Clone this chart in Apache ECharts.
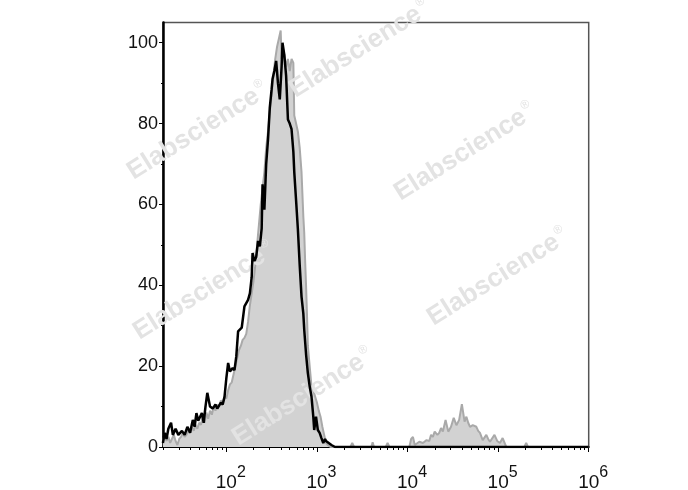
<!DOCTYPE html>
<html><head><meta charset="utf-8">
<script src="https://cdn.jsdelivr.net/npm/echarts@6/dist/echarts.min.js"></script>
<style>html,body{margin:0;padding:0;background:#fff}#c{width:688px;height:490px}</style>
</head><body><div id="c"></div>
<script>
// x values are log10(fluorescence intensity); y values are counts (% of max)
const grayHistogram = [
[1.30,1.5],[1.32,3],[1.34,1.5],[1.36,2.5],[1.38,1],[1.40,2],[1.42,3],[1.44,1.5],[1.46,0.5],[1.48,2],
[1.50,2.5],[1.52,3.5],[1.54,2.5],[1.56,3],[1.58,4],[1.60,3.5],[1.62,5],[1.64,4],[1.66,5.5],[1.68,4.5],
[1.70,6],[1.72,5.5],[1.74,7.5],[1.76,6],[1.78,8.5],[1.80,7],[1.82,9],[1.84,8],[1.86,10],[1.88,9],
[1.90,10.5],[1.92,10],[1.94,11.5],[1.96,11],[1.98,12.5],[2.00,12],[2.02,14],[2.04,15.5],[2.06,16],[2.08,18],
[2.10,20],[2.12,22],[2.14,24],[2.16,25],[2.18,26.5],[2.20,27],[2.22,28],[2.24,31],[2.26,35],[2.28,38],
[2.30,41],[2.32,45],[2.34,50],[2.36,55],[2.38,60],[2.40,64],[2.42,68],[2.44,74],[2.46,78],[2.48,83],
[2.50,87],[2.52,92],[2.54,96],[2.56,99],[2.58,101],[2.60,103],[2.61,96],[2.62,99],[2.64,97],[2.66,94],
[2.68,96],[2.70,93],[2.72,96],[2.74,95],[2.75,82],[2.77,80],[2.79,78],[2.81,74],[2.83,68],[2.85,57],
[2.86,53],[2.87,46],[2.88,40],[2.89,33],[2.90,25],[2.92,20],[2.94,15],[2.96,14],[2.98,12.5],[3.00,11],
[3.02,9],[3.04,7.5],[3.06,5],[3.08,3],[3.10,1],[3.12,0.5],[3.15,0],
[3.37,0],[3.39,1],[3.41,0],[3.60,0],[3.615,1.2],[3.63,0],[3.76,0],[3.78,1],[3.80,0],
[4.02,0],[4.04,2],[4.06,2.5],[4.08,0.5],[4.10,0.8],[4.13,1.3],[4.17,1],[4.21,1.7],[4.24,1.5],[4.26,3],
[4.28,2.5],[4.30,3.8],[4.33,3],[4.35,3.5],[4.37,4.7],[4.39,3.8],[4.42,6.7],[4.45,3.8],[4.48,5],[4.51,7.2],
[4.54,5.4],[4.57,6.7],[4.60,10.6],[4.63,6.3],[4.65,7.5],[4.67,6],[4.69,5],[4.72,5.4],[4.74,5],[4.76,5],
[4.78,4],[4.80,3.5],[4.83,1.7],[4.85,2],[4.87,3],[4.89,2],[4.91,1.3],[4.96,3],[4.99,1.5],[5.02,1],
[5.05,2.2],[5.09,0],[5.29,0],[5.31,1],[5.33,0],[6.00,0]
];
const blackHistogram = [
[1.30,1],[1.32,3.5],[1.34,2],[1.36,4.5],[1.39,6],[1.41,3],[1.44,4.5],[1.47,3],[1.51,4],[1.54,3],
[1.57,5],[1.60,3.5],[1.63,6.7],[1.65,5],[1.67,8.4],[1.69,6.5],[1.73,8.4],[1.75,6],[1.77,10],[1.79,13.4],
[1.82,10],[1.85,9.5],[1.88,10.5],[1.90,9.5],[1.94,11],[1.96,10.5],[1.98,12.4],[2.00,17],[2.02,20.8],[2.04,18.7],
[2.07,19.5],[2.09,19],[2.11,22.4],[2.13,28.6],[2.17,29.5],[2.20,34.8],[2.24,36.4],[2.26,38],[2.28,42],[2.29,48],
[2.31,46],[2.33,47],[2.35,51],[2.37,49.6],[2.39,54],[2.40,65],[2.42,58.7],[2.44,70],[2.46,76],[2.48,84],
[2.50,88.5],[2.51,91],[2.53,93],[2.55,95.5],[2.57,90],[2.59,86],[2.61,94],[2.62,100],[2.64,97],[2.66,91.8],
[2.68,81],[2.70,80],[2.72,78.6],[2.74,73],[2.75,68],[2.77,61],[2.79,53.8],[2.81,45],[2.83,37.2],[2.85,33],
[2.86,29],[2.88,23],[2.90,18.3],[2.92,15],[2.94,12.5],[2.96,7.5],[2.97,4.2],[2.99,7.5],[3.01,4.2],[3.03,3.5],
[3.05,2.2],[3.07,1],[3.09,2],[3.10,1.5],[3.12,1.3],[3.16,0.5],[3.20,0],[6.00,0]
];
const xMajorTicks = [2, 3, 4, 5, 6];
const xTickExponents = ['2', '3', '4', '5', '6'];
const yTicks = [0, 20, 40, 60, 80, 100];
const yTickLabels = ['0', '20', '40', '60', '80', '100'];
const yMinorTicks = [10, 30, 50, 70, 90];
const watermarkText = 'Elabscience';
const watermarkCenters = [[198,131],[360,49],[465,152],[204,291],[498,277],[303,397]];

const xMin = Math.log10(20), xMax = 6;
const xMinorTicks = [];
for (let n = 1; n <= 5; n++) for (let k = 2; k <= 9; k++) {
  const v = Math.log10(k * Math.pow(10, n));
  if (v >= xMin - 1e-9 && v <= xMax) xMinorTicks.push(v);
}

const chart = echarts.init(document.getElementById('c'));
const FF = 'Liberation Sans, Arial, sans-serif';
const TXT = '#111';
const watermarks = watermarkCenters.map(function (c) {
  return {
    type: 'text', x: c[0], y: c[1], rotation: 0.56, z: 3, silent: true,
    style: {
      text: '{a|' + watermarkText + '}{r|®}',
      align: 'center', verticalAlign: 'middle',
      rich: {
        a: { fontSize: 26, fontWeight: 'bold', fontFamily: FF, fill: '#e3e3e3', lineHeight: 28, verticalAlign: 'middle' },
        r: { fontSize: 12, fontFamily: FF, fill: '#e3e3e3', lineHeight: 12, verticalAlign: 'top', padding: [0, 0, 0, 2] }
      }
    }
  };
});
const option = {
  animation: false,
  backgroundColor: '#fff',
  grid: { left: 163, right: 99.3, top: 22.5, bottom: 43, show: true, borderColor: '#555', borderWidth: 1.5, backgroundColor: 'transparent' },
  xAxis: [{
    type: 'value', min: xMin, max: xMax, position: 'bottom',
    axisLine: { show: true, onZero: false, lineStyle: { color: '#000', width: 2 } },
    axisTick: { show: true, customValues: xMajorTicks, length: 5, lineStyle: { color: '#000', width: 1 } },
    axisLabel: { show: false },
    splitLine: { show: false }
  }, {
    type: 'value', min: xMin, max: xMax, position: 'bottom',
    axisLine: { show: false },
    axisTick: { show: true, customValues: xMinorTicks, length: 3, lineStyle: { color: '#000', width: 1 } },
    axisLabel: { show: false },
    splitLine: { show: false }
  }],
  yAxis: [{
    type: 'value', min: 0, max: 105,
    axisLine: { show: true, onZero: false, lineStyle: { color: '#000', width: 2.5 } },
    axisTick: { show: true, customValues: yTicks, length: 4, lineStyle: { color: '#000', width: 1 } },
    axisLabel: {
      customValues: yTicks, margin: 5, fontSize: 18, fontFamily: FF, color: TXT,
      formatter: function (v) { return yTickLabels[yTicks.indexOf(Math.round(v))]; }
    },
    splitLine: { show: false }
  }, {
    type: 'value', min: 0, max: 105, position: 'left',
    axisLine: { show: false },
    axisTick: { show: true, customValues: yMinorTicks, length: 2, lineStyle: { color: '#000', width: 1 } },
    axisLabel: { show: false },
    splitLine: { show: false }
  }],
  graphic: watermarks,
  series: [{
    type: 'line', data: grayHistogram, showSymbol: false, z: 2, clip: true,
    lineStyle: { color: '#a9a9a9', width: 2 },
    areaStyle: { color: '#d2d2d2', opacity: 1 }
  }, {
    type: 'line', data: blackHistogram, showSymbol: false, z: 5, clip: true,
    lineStyle: { color: '#000', width: 2.5 }
  }]
};
chart.setOption(option);

// x tick labels "10^n" placed with the axis' own scale
const baseY = chart.convertToPixel({ yAxisIndex: 0 }, 0);
const xLabels = xMajorTicks.map(function (v, i) {
  const px = chart.convertToPixel({ xAxisIndex: 0 }, v);
  return {
    type: 'text', x: px, y: baseY + 18, z: 10, silent: true,
    style: {
      text: '{b|10}{s|' + xTickExponents[i] + '}',
      align: 'center', verticalAlign: 'top',
      rich: {
        b: { fontSize: 19, lineHeight: 35, fontFamily: FF, fill: TXT, verticalAlign: 'middle', padding: [0, 0, 0, 9] },
        s: { fontSize: 16, lineHeight: 17, fontFamily: FF, fill: TXT, verticalAlign: 'top' }
      }
    }
  };
});
chart.setOption({ graphic: watermarks.concat(xLabels) });
</script>
</body></html>
